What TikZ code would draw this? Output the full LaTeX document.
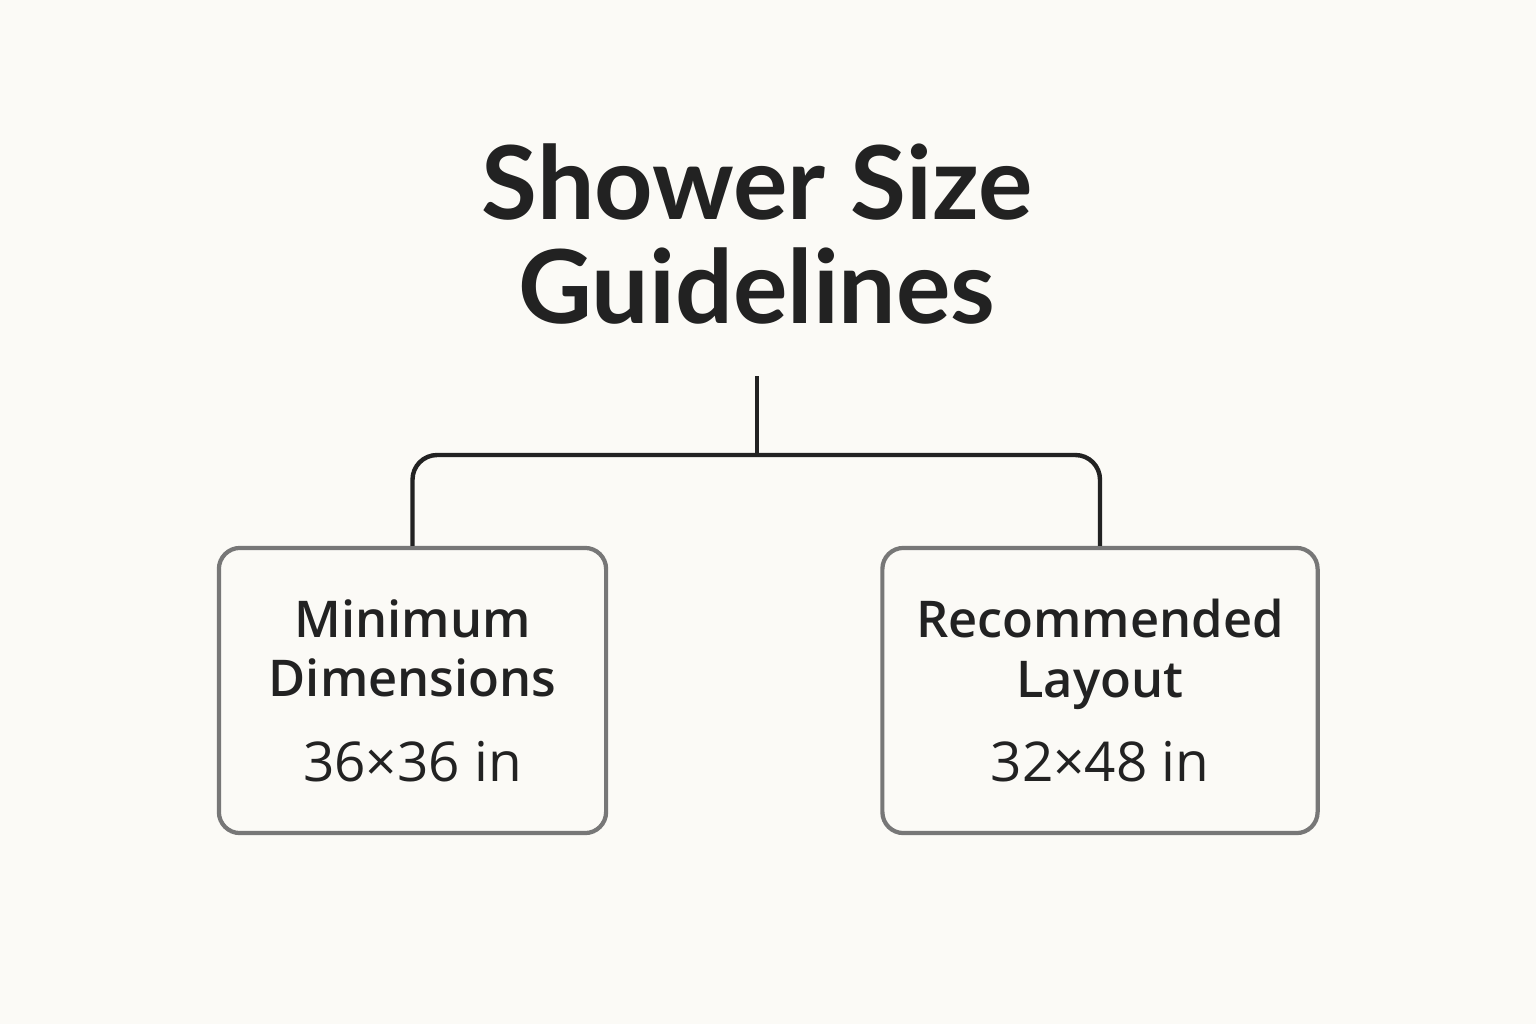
\documentclass[tikz,border=0pt]{standalone}
\usepackage{fontspec}
\setmainfont{Open Sans}
\newfontfamily\medfont{Open Sans Semibold}
\newfontfamily\headfont{Lato}
\usepackage{tikz}
\definecolor{paper}{HTML}{FBFAF6}
\definecolor{ink}{HTML}{222222}
\definecolor{frame}{HTML}{777777}
\newcommand\cardhead[1]{{\medfont\fontsize{14.4}{17}\selectfont #1}}
\tikzstyle{title}=[font=\headfont\bfseries\fontsize{29}{29.5}\selectfont,text=ink,align=center]
\tikzstyle{card} =[draw=frame,line width=1.2pt,rounded corners=6pt,fill=paper,text=ink,align=center,minimum height=2.85cm,font=\fontsize{15.6}{17}\selectfont]
\tikzstyle{branch}=[draw=ink,line width=1.25pt,rounded corners=7pt]

\begin{document}
\begin{tikzpicture}[x=.01cm,y=-.01cm]
	\fill[paper] (0,0) rectangle (1536,1024);
	\node[title] (head) at (757,234) {Shower Size\\Guidelines};
	\node[card,minimum width=3.87cm] (min) at (412.5,690.5) {\cardhead{Minimum}\\\cardhead{Dimensions}\\[7pt]36×36 in};
	\node[card,minimum width=4.35cm] (rec) at (1100,690.5) {\cardhead{Recommended}\\\cardhead{Layout}\\[7pt]32×48 in};
	\coordinate (stem) at (757,376);
	\coordinate (fork) at (757,455);
	\draw[branch] (stem) -- (fork);
	\draw[branch] (min.north) |- (fork) -| (rec.north);
\end{tikzpicture}
\end{document}
